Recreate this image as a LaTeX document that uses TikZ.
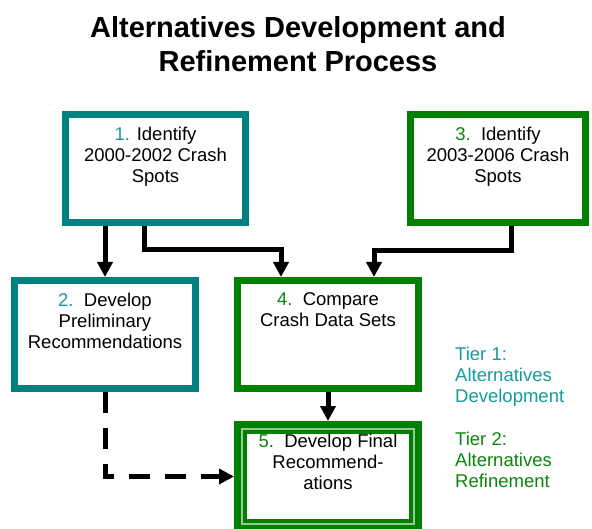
\documentclass[tikz,border=0pt]{standalone}
\usepackage{fontspec}
\setmainfont{Liberation Sans}
\usetikzlibrary{arrows.meta}
\definecolor{tealb}{RGB}{0,128,128}
\definecolor{tealt}{RGB}{20,155,155}
\definecolor{greenb}{RGB}{0,128,0}
\definecolor{greent}{RGB}{10,135,10}
\definecolor{lightg}{RGB}{150,200,150}
\begin{document}
\begin{tikzpicture}[x=1pt,y=-1pt,
  box/.style={draw, line width=7pt, fill=white, inner sep=0pt},
  tealbox/.style={box, draw=tealb},
  greenbox/.style={box, draw=greenb},
  btext/.style={font=\fontsize{18.5}{21}\selectfont, align=center, inner sep=0pt, anchor=north},
  tiertext/.style={font=\fontsize{18.5}{21}\selectfont, align=left, inner sep=0pt, anchor=north west},
  arr/.style={line width=5pt, -{Triangle[width=15pt,length=15pt]}},
  dasharr/.style={arr, dash pattern=on 21pt off 15pt}
]
\useasboundingbox (0,0) rectangle (592,529);

% title
\node[font=\fontsize{29}{34}\selectfont\bfseries, align=center, inner sep=0pt, anchor=north] (title) at (298,16)
  {Alternatives Development and\\Refinement Process};

% boxes
\node[tealbox, minimum width=180pt, minimum height=108pt] (b1) at (155.5,168.5) {};
\node[greenbox, minimum width=175pt, minimum height=108pt] (b3) at (498,168.5) {};
\node[tealbox, minimum width=181pt, minimum height=108pt] (b2) at (105,334.5) {};
\node[greenbox, minimum width=181pt, minimum height=108pt] (b4) at (328,334.5) {};
\node[greenbox, minimum width=181pt, minimum height=104pt] (b5) at (328,476.5) {};
\draw[lightg, line width=2pt] ([shift={(8,8)}]b5.north west) rectangle ([shift={(-8,-8)}]b5.south east);
\draw[greenb, line width=4pt] ([shift={(11,11)}]b5.north west) rectangle ([shift={(-11,-11)}]b5.south east);

% box texts
\node[btext] (t1) at ([yshift=-15.5pt]b1.north) {\textcolor{tealt}{1.} Identify\\2000-2002 Crash\\Spots};
\node[btext] (t3) at ([yshift=-15.5pt]b3.north) {\textcolor{greent}{3.}\ \ Identify\\2003-2006 Crash\\Spots};
\node[btext] (t2) at ([yshift=-15.5pt]b2.north) {\textcolor{tealt}{2.}\ \ Develop\\Preliminary\\Recommendations};
\node[btext] (t4) at ([yshift=-15.5pt]b4.north) {\textcolor{greent}{4.}\ \ Compare\\Crash Data Sets};
\node[btext] (t5) at ([yshift=-13pt]b5.north) {\textcolor{greent}{5.}\ \ Develop Final\\Recommend-\\ations};

% tier labels
\node[tiertext, text=tealt] (tier1) at (455,347) {Tier 1:\\Alternatives\\Development};
\node[tiertext, text=greent] (tier2) at (455,432) {Tier 2:\\Alternatives\\Refinement};

% connectors
\coordinate (j1) at (144,250);
\coordinate (j3) at (511,251);
\draw[arr] (b2.north |- b1.south) -- (b2.north);
\draw[arr] (b1.south -| j1) -- (j1) -| ([xshift=-47pt]b4.north);
\draw[arr] (b3.south -| j3) -- (j3) -| ([xshift=46pt]b4.north);
\draw[arr] (b4.south) -- (b5.north);
\draw[dasharr] (b2.south) |- (b5.west);
\end{tikzpicture}
\end{document}
